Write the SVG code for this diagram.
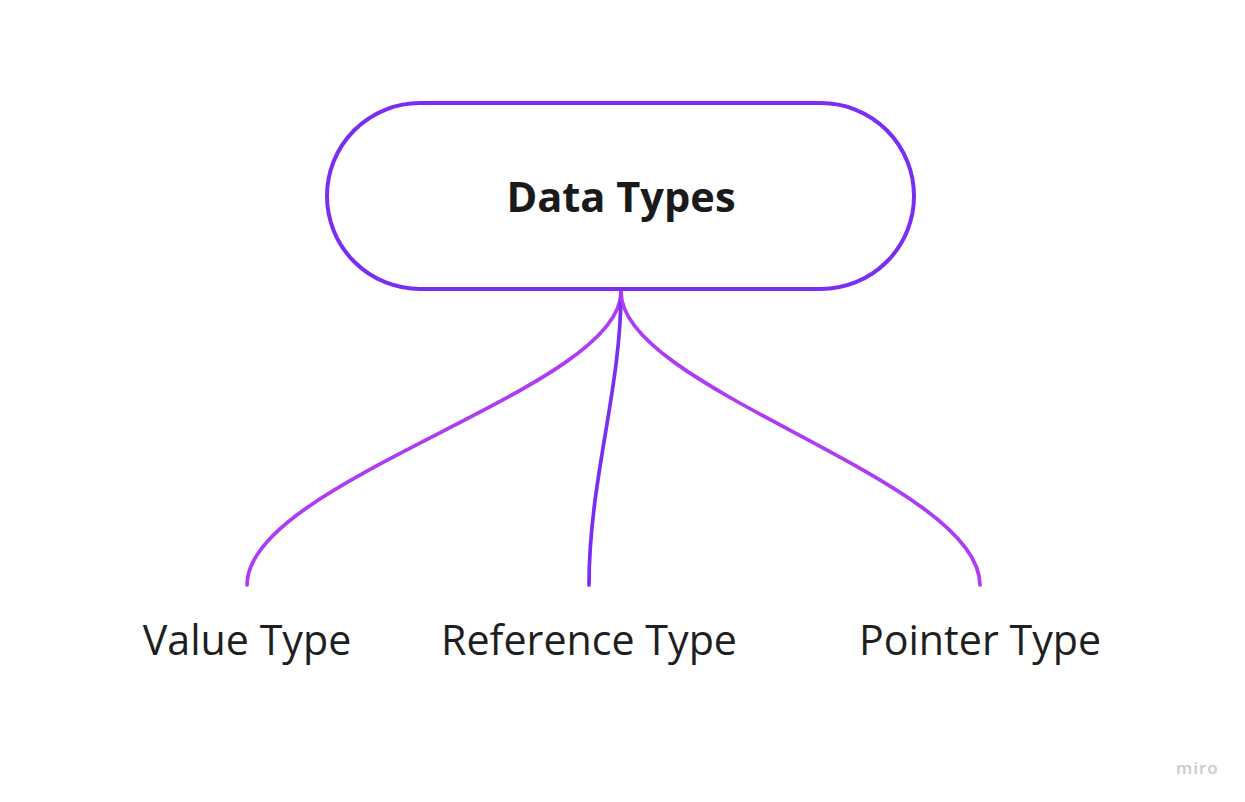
<svg xmlns="http://www.w3.org/2000/svg" width="1245" height="802" viewBox="0 0 1245 802">
<style>
.node{fill:#ffffff;stroke:#7a2ef2;stroke-width:4}
.edge{fill:none;stroke-width:3.7;stroke-linecap:round}
.side{stroke:#ae3cf5}
.mid{stroke:#7a2ef2}
.title{font-family:"Open Sans","Liberation Sans",sans-serif;font-weight:700;font-size:41.6px;fill:#1a1a1a;text-anchor:middle}
.label{font-family:"Open Sans","Liberation Sans",sans-serif;font-size:41.2px;fill:#1f1f1f;text-anchor:middle}
.logo{font-family:"Open Sans","Liberation Sans",sans-serif;font-size:17px;fill:#c9c9ce;font-weight:600;letter-spacing:1px}
</style>
<rect width="1245" height="802" fill="#ffffff"/>
<g id="connectors">
<path class="edge side" d="M621 292 C621 390 247 480 247 585"/>
<path class="edge mid" d="M621 292 C621 390 589 480 589 585"/>
<path class="edge side" d="M621 292 C621 390 980 480 980 585"/>
</g>
<g id="node-data-types">
<rect class="node" x="327" y="103" width="587" height="186" rx="93" ry="93"/>
<text class="title" x="621" y="212">Data Types</text>
</g>
<g id="node-value-type">
<text class="label" x="247" y="655">Value Type</text>
</g>
<g id="node-reference-type">
<text class="label" x="589" y="655">Reference Type</text>
</g>
<g id="node-pointer-type">
<text class="label" x="980" y="655">Pointer Type</text>
</g>
<text class="logo" x="1176" y="774">miro</text>
</svg>
